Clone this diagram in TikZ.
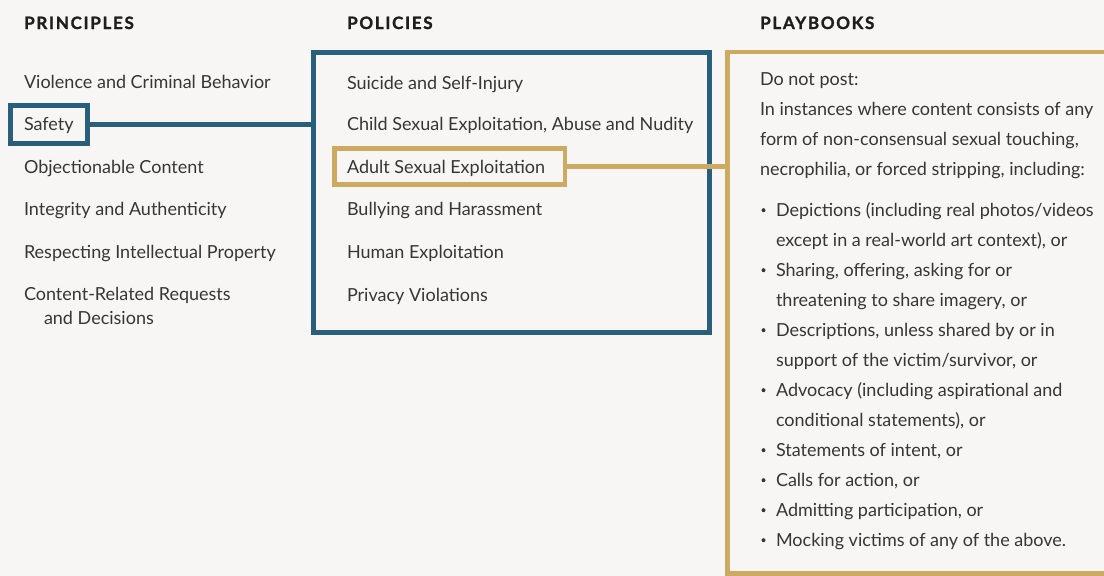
\documentclass[tikz,border=0pt]{standalone}
\usepackage{fontspec}
\setmainfont{Lato}
\newfontfamily\hdfont{Lato}[LetterSpace=10,BoldFeatures={FakeBold=1.4}]
\definecolor{bgc}{HTML}{F7F6F4}
\definecolor{bluec}{HTML}{2A5F7B}
\definecolor{goldc}{HTML}{CCAA62}
\definecolor{txtc}{HTML}{363636}
\definecolor{hdc}{HTML}{1E1E1E}
\tikzset{
  txt/.style={anchor=base west, inner sep=0pt, outer sep=0pt, text=txtc, font=\fontsize{18}{20}\selectfont},
  hd/.style={anchor=base west, inner sep=0pt, text=hdc, font=\hdfont\bfseries\fontsize{17}{18}\selectfont},
  dot/.style={circle, fill=txtc, inner sep=0pt, minimum size=4pt},
  bluebox/.style={draw=bluec, line width=5pt, inner sep=0pt},
  goldbox/.style={draw=goldc, line width=4.5pt, inner sep=0pt},
  blueline/.style={draw=bluec, line width=5pt},
  goldline/.style={draw=goldc, line width=4.5pt}
}
\begin{document}
\begin{tikzpicture}[x=1pt,y=1pt]
\useasboundingbox (0,0) rectangle (1104,-576);
\fill[bgc] (0,0) rectangle (1104,-576);
\clip (0,0) rectangle (1104,-576);
% headers
\node[hd] (h1) at (24,-29) {PRINCIPLES};
\node[hd] (h2) at (347,-29) {POLICIES};
\node[hd] (h3) at (760,-29) {PLAYBOOKS};
% boxes
\node[bluebox, minimum width=76.5pt, minimum height=37.5pt] (safety) at (48.75,-124.25) {};
\node[bluebox, minimum width=396.5pt, minimum height=280pt] (polbox) at (511.25,-192) {};
\node[goldbox, minimum width=230.5pt, minimum height=36pt] (adult) at (449.75,-166.5) {};
\node[goldbox, minimum width=392.5pt, minimum height=521.5pt] (play) at (923.75,-312.75) {};
% connectors
\draw[blueline] (safety.east) -- (safety.east -| polbox.west);
\draw[goldline] (adult.east) -- (adult.east -| play.west);
% principles
\node[txt] (p1) at (24,-88) {Violence and Criminal Behavior};
\node[txt] (p2) at (24,-130.5) {Safety};
\node[txt] (p3) at (24,-173) {Objectionable Content};
\node[txt] (p4) at (24,-215.5) {Integrity and Authenticity};
\node[txt] (p5) at (24,-258) {Respecting Intellectual Property};
\node[txt] (p6) at (24,-300.5) {Content-Related Requests};
\node[txt] (p6b) at (44,-324) {and Decisions};
% policies
\node[txt] (q1) at (347,-89) {Suicide and Self-Injury};
\node[txt] (q2) at (347,-130.5) {Child Sexual Exploitation, Abuse and Nudity};
\node[txt] (q3) at (347,-173) {Adult Sexual Exploitation};
\node[txt] (q4) at (347,-215.5) {Bullying and Harassment};
\node[txt] (q5) at (347,-258) {Human Exploitation};
\node[txt] (q6) at (347,-301) {Privacy Violations};
% playbooks
\node[txt] (r1) at (760,-85) {Do not post:};
\node[txt] (r2) at (760,-115.5) {In instances where content consists of any};
\node[txt] (r3) at (760,-145.5) {form of non-consensual sexual touching,};
\node[txt] (r4) at (760,-175.5) {necrophilia, or forced stripping, including:};
\foreach \i/\y/\t/\b in {
  b1/216.7/{Depictions (including real photos/videos}/1,
  b2/246.7/{except in a real-world art context), or}/0,
  b3/276.7/{Sharing, offering, asking for or}/1,
  b4/306.7/{threatening to share imagery, or}/0,
  b5/336.7/{Descriptions, unless shared by or in}/1,
  b6/366.7/{support of the victim/survivor, or}/0,
  b7/396.7/{Advocacy (including aspirational and}/1,
  b8/426.7/{conditional statements), or}/0,
  b9/456.7/{Statements of intent, or}/1,
  b10/486.7/{Calls for action, or}/1,
  b11/516.7/{Admitting participation, or}/1,
  b12/546.7/{Mocking victims of any of the above.}/1}{
  \node[txt] (\i) at (776,-\y) {\t};
  \ifnum\b=1 \node[dot] (\i d) at (763.5,-\y+6.5) {};\fi
}
\end{tikzpicture}
\end{document}
